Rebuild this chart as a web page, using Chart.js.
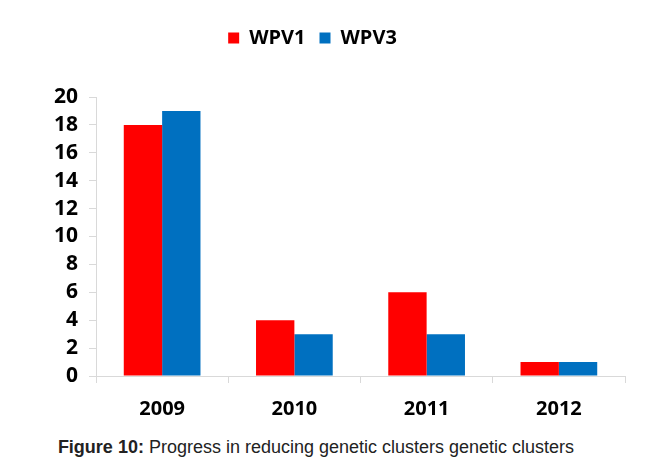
<!DOCTYPE html>
<html lang="en">
<head>
  <meta charset="UTF-8" />
  <title>Figure 10</title>
  <script src="https://cdn.jsdelivr.net/npm/chart.js"></script>
  <style>
    html, body { margin: 0; padding: 0; background: #fff; }
    #wrap { position: relative; width: 655px; height: 470px; }
    #chart { position: absolute; left: 0; top: 0; }
    #caption {
      position: absolute; left: 0; top: 437px; width: 632px; text-align: center;
      font-family: "Liberation Sans", Arial, sans-serif; font-size: 18px; color: #222;
    }
  </style>
</head>
<body>
<div id="wrap">
  <canvas id="chart" width="655" height="435"></canvas>
  <div id="caption"><b>Figure 10:</b> Progress in reducing genetic clusters genetic clusters</div>
</div>

<script>
const years = ['2009', '2010', '2011', '2012'];
const wpv1 = [18, 4, 6, 1];
const wpv3 = [19, 3, 3, 1];

const font = { family: '"Open Sans", sans-serif', size: 20, weight: 'bold' };

// extra room under the legend
const legendMargin = {
  id: 'legendMargin',
  beforeInit(chart) {
    const fit = chart.legend.fit;
    chart.legend.fit = function () {
      fit.bind(chart.legend)();
      this.height += 39;
    };
  }
};

const ctx = document.getElementById('chart').getContext('2d');
new Chart(ctx, {
  type: 'bar',
  data: {
    labels: years,
    datasets: [
      { label: 'WPV1', data: wpv1, backgroundColor: '#ff0000' },
      { label: 'WPV3', data: wpv3, backgroundColor: '#0070c0' }
    ]
  },
  options: {
    responsive: false,
    animation: false,
    layout: { padding: { left: 0, right: 30, top: 14, bottom: 0 } },
    datasets: { bar: { categoryPercentage: 0.58, barPercentage: 1 } },
    scales: {
      x: {
        grid: { drawOnChartArea: false, tickLength: 7, color: '#d9d9d9' },
        border: { color: '#d9d9d9' },
        ticks: { color: '#000', font: font, padding: 14 }
      },
      y: {
        min: 0, max: 20,
        afterFit(s) { s.width = 96; },
        grid: { drawOnChartArea: false, tickLength: 7, color: '#d9d9d9' },
        border: { color: '#d9d9d9' },
        ticks: { stepSize: 2, autoSkip: false, color: '#000', font: { ...font, size: 21 }, padding: 11 }
      }
    },
    plugins: {
      legend: {
        labels: { boxWidth: 11, boxHeight: 11, color: '#000', font: font, padding: 14 }
      },
      tooltip: { enabled: false }
    }
  },
  plugins: [legendMargin]
});
</script>
</body>
</html>
